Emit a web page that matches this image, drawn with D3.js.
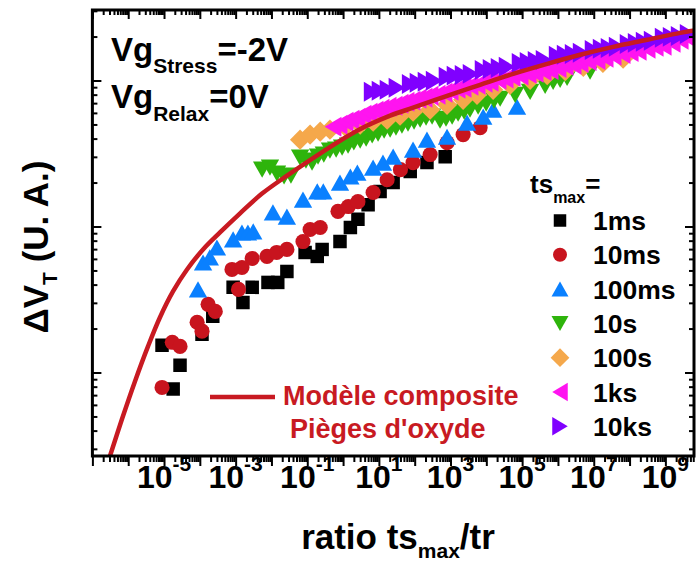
<!DOCTYPE html>
<html>
<head>
<meta charset="utf-8">
<script src="https://cdn.jsdelivr.net/npm/d3@7"></script>
<style>
  html, body { margin: 0; padding: 0; background: #fff; }
  svg { display: block; }
  text { font-family: "Liberation Sans", Arial, sans-serif; font-weight: bold; }
</style>
</head>
<body>
<svg id="chart" width="696" height="563"></svg>
<script>
// ---- Measured threshold-voltage shift vs. ratio ts_max / tr ----
const seriesNames = ["1ms", "10ms", "100ms", "10s", "100s", "1ks", "10ks"];

const ratio1ms = [8.8e-6, 1.8e-5, 2.8e-5, 1.15e-4, 2.3e-4, 8.5e-4, 1.6e-3, 2.9e-3, 8.0e-3, 1.5e-2, 2.7e-2, 8.7e-2, 0.19, 0.26, 0.82, 1.6, 2.6, 5.0, 10.8, 25, 75, 220, 710];
const dvt1ms   = [1.54, 0.77, 1.12, 1.83, 2.43, 3.83, 3.02, 3.83, 4.14, 4.14, 4.92, 6.64, 6.24, 6.97, 7.89, 9.84, 11.2, 14.1, 17.4, 20.0, 23.8, 27.4, 30.1];

const ratio10ms = [8.8e-6, 1.7e-5, 2.8e-5, 8.4e-5, 1.15e-4, 1.7e-4, 2.7e-4, 7.9e-4, 1.2e-3, 1.5e-3, 2.9e-3, 7.5e-3, 1.4e-2, 2.7e-2, 7.6e-2, 0.12, 0.23, 0.72, 1.4, 2.6, 6.9, 17, 40, 90, 270, 800, 2250, 6700];
const dvt10ms   = [0.79, 1.61, 1.51, 2.21, 1.92, 2.93, 2.62, 5.08, 3.71, 5.24, 6.04, 6.24, 6.64, 6.97, 7.89, 9.54, 9.84, 12.7, 13.7, 14.8, 17.1, 20.9, 24.5, 27.4, 31.1, 37.5, 42.6, 47.5];

const ratio100ms = [8.9e-5, 1.23e-4, 1.9e-4, 3.0e-4, 8.5e-4, 1.5e-3, 2.2e-3, 3.1e-3, 1.1e-2, 2.7e-2, 7.6e-2, 0.19, 0.28, 0.82, 1.6, 2.5, 6.9, 13, 25, 90, 220, 800, 2900, 8200, 15500, 72000];
const dvt100ms   = [3.71, 5.67, 6.14, 7.18, 8.15, 9.1, 9.1, 9.25, 12.5, 11.7, 15.3, 17.4, 17.4, 20.0, 22.0, 23.4, 25.3, 27.4, 30.1, 33.6, 39.3, 41.2, 51.4, 56.5, 63.1, 66.1];

const ratio10s = [5.5e-3, 9.1e-3, 1.43e-2, 2.25e-2, 3.5e-2, 6.3e-2, 9.2e-2, 0.136, 0.20, 0.29, 0.43, 0.64, 0.94, 1.38, 2.0, 3.0, 4.4, 6.5, 9.5, 14, 20.6, 30, 44, 65, 96, 142, 208, 306, 510, 750, 1110, 1630, 2400, 3500, 5900, 9900, 16500, 24300, 63700, 167000, 439000, 735000, 1.15e6, 1.8e6, 7.9e6];
const dvt10s   = [24.5, 25.3, 23.0, 22.0, 22.3, 29.6, 28.3, 27.4, 30.1, 31.1, 33.1, 33.6, 34.7, 35.8, 37.6, 38.8, 40.0, 42.0, 43.3, 45.4, 46.1, 47.6, 49.1, 50.7, 52.2, 53.9, 55.6, 56.5, 53.0, 54.7, 56.5, 59.2, 61.1, 63.1, 66.2, 69.4, 72.7, 75.0, 79.8, 83.7, 92.0, 97.9, 101, 104, 115];

const ratio100s = [6.3e-2, 0.12, 0.23, 0.43, 1.14, 3.0, 6.9, 17, 39, 90, 270, 800, 2250, 5500, 15500, 46000, 167000, 500000, 1.6e6, 5.1e6, 1.8e7, 6.6e7];
const dvt100s   = [39.3, 42.6, 44.6, 46.0, 48.3, 49.8, 52.2, 53.9, 57.4, 61.1, 63.1, 68.2, 73.8, 79.8, 86.3, 93.5, 101, 109, 116, 124, 132, 141];

const ratio1ks = [0.526, 0.773, 1.14, 1.67, 2.46, 3.62, 5.32, 7.83, 11.5, 18.1, 26.6, 39.1, 57.5, 84.6, 124, 183, 269, 423, 662, 975, 1530, 2250, 3520, 5530, 8690, 12800, 21400, 33500, 52600, 87900, 147000, 231000, 386000, 606000, 1.01e6, 1.59e6, 2.66e6, 4.17e6, 6.98e6, 1.24e7, 2.08e7, 3.48e7, 6.21e7, 1.04e8, 1.74e8, 3.10e8, 5.19e8, 8.69e8, 1.55e9, 2.59e9, 4.34e9];
const dvt1ks   = [48.3, 49.8, 52.2, 53.9, 55.6, 58.3, 60.2, 62.1, 64.1, 66.1, 67.2, 69.4, 71.5, 72.7, 75.0, 76.2, 78.6, 79.8, 82.4, 85.1, 87.7, 89.1, 92.0, 93.5, 96.4, 97.9, 101, 103, 106, 108, 111, 113, 116, 118, 122, 126, 128, 132, 136, 138, 143, 148, 152, 157, 160, 165, 170, 173, 181, 190, 196];

const ratio10ks = [6.5, 10.8, 18, 32, 75, 124, 208, 350, 800, 1340, 2250, 3760, 8150, 13600, 22800, 38100, 87900, 147000, 246000, 412000, 951000, 1.59e6, 2.66e6, 4.45e6, 9.6e6, 1.61e7, 2.69e7, 4.51e7, 9.1e7, 1.53e8, 2.56e8, 4.28e8, 8.7e8, 1.45e9, 2.43e9, 4.34e9];
const dvt10ks   = [83.8, 85.1, 86.5, 89.1, 94.8, 96.4, 97.9, 99.5, 106, 108, 109, 111, 118, 120, 122, 124, 132, 134, 136, 138, 148, 150, 152, 155, 162, 165, 167, 170, 178, 181, 184, 187, 196, 199, 202, 208];

// Composite oxide-trap model curve
const modelRatio = [3.10e-7, 6.71e-7, 1.55e-6, 3.57e-6, 7.73e-6, 1.78e-5, 4.39e-5, 1.23e-4, 3.66e-4, 1.33e-3, 5.46e-3, 2.73e-2, 0.276, 2.46, 20.6, 90.2, 804, 6710, 56100, 5.0e5, 4.17e6, 3.48e7, 3.10e8, 2.59e9, 6.37e9];
const modelDvt   = [0.268, 0.480, 0.872, 1.51, 2.39, 3.59, 5.08, 6.96, 9.10, 12.3, 16.8, 22.3, 32.6, 45.3, 57.4, 65.1, 78.6, 93.5, 111, 130, 150, 170, 190, 212, 220];

// Axis extents and labelled decades
const xDomain = [1e-7, 6.3e9];
const yDomain = [0.268, 304];
const xLabelExponents = [-5, -3, -1, 1, 3, 5, 7, 9];

// ---- styles ----
const seriesColors = ["#000000", "#c8141e", "#0a80ff", "#2eb40c", "#f5a84b", "#ff14f0", "#8000ff"];
const seriesShapes = ["square", "circle", "up", "down", "diamond", "left", "right"];
const modelColor = "#c81a22";

const seriesData = [
  [ratio1ms, dvt1ms], [ratio10ms, dvt10ms], [ratio100ms, dvt100ms], [ratio10s, dvt10s],
  [ratio100s, dvt100s], [ratio1ks, dvt1ks], [ratio10ks, dvt10ks]
];

const box = { left: 92.4, right: 694, top: 10, bottom: 456 };
const svg = d3.select("#chart");
svg.append("rect").attr("width", 696).attr("height", 563).attr("fill", "#fff");

const x = d3.scaleLog().domain(xDomain).range([box.left, box.right]);
const y = d3.scaleLog().domain(yDomain).range([box.bottom, box.top]);

svg.append("defs").append("clipPath").attr("id", "plotClip")
  .append("rect")
  .attr("x", box.left).attr("y", box.top)
  .attr("width", box.right - box.left).attr("height", box.bottom - box.top);

function markerPath(shape, s) {
  const h = s / 2;
  switch (shape) {
    case "square": return `M${-h},${-h}H${h}V${h}H${-h}Z`;
    case "circle": { const r = s * 0.56; return `M${-r},0A${r},${r} 0 1,0 ${r},0A${r},${r} 0 1,0 ${-r},0Z`; }
    case "up":    { const w = s * 0.68, t = s * 0.6; return `M0,${-t}L${w},${t}L${-w},${t}Z`; }
    case "down":  { const w = s * 0.68, t = s * 0.6; return `M0,${t}L${w},${-t}L${-w},${-t}Z`; }
    case "left":  { const w = s * 0.74, t = s * 0.62; return `M${-t},0L${t},${-w}L${t},${w}Z`; }
    case "right": { const w = s * 0.74, t = s * 0.62; return `M${t},0L${-t},${-w}L${-t},${w}Z`; }
    case "diamond": { const d = s * 0.75; return `M0,${-d}L${d},0L0,${d}L${-d},0Z`; }
  }
}

// ---- data markers ----
const plot = svg.append("g").attr("clip-path", "url(#plotClip)");
seriesData.forEach(([rs, vs], i) => {
  const pts = rs.map((r, k) => ({ r, v: vs[k] }));
  plot.append("g").selectAll("path").data(pts).join("path")
    .attr("d", markerPath(seriesShapes[i], 13.5))
    .attr("transform", d => `translate(${x(d.r)},${y(d.v)})`)
    .attr("fill", seriesColors[i]);
});

// ---- model curve ----
const modelPts = modelRatio.map((r, k) => [r, modelDvt[k]]);
plot.append("path")
  .datum(modelPts)
  .attr("fill", "none")
  .attr("stroke", modelColor)
  .attr("stroke-width", 4.5)
  .attr("d", d3.line().x(d => x(d[0])).y(d => y(d[1])).curve(d3.curveCatmullRom.alpha(0.5)));

// ---- axes (ticks only; frame drawn separately) ----
const xMajor = d3.range(-7, 10).map(e => 10 ** e).filter(v => v >= xDomain[0] && v <= xDomain[1]);
const xMinor = [];
d3.range(-7, 10).forEach(e => { for (let k = 2; k <= 9; k++) { const v = k * 10 ** e; if (v > xDomain[0] && v < xDomain[1]) xMinor.push(v); } });
const yMajor = [1, 10, 100];
const yMinor = [];
d3.range(-1, 3).forEach(e => { for (let k = 2; k <= 9; k++) { const v = k * 10 ** e; if (v > yDomain[0] && v < yDomain[1]) yMinor.push(v); } });

function tickAxis(axisFn, scale, vals, size, tx, ty) {
  const g = svg.append("g").attr("transform", `translate(${tx},${ty})`)
    .call(axisFn(scale).tickValues(vals).tickSize(size).tickFormat(""));
  g.select(".domain").remove();
  g.selectAll(".tick line").attr("stroke", "#000").attr("stroke-width", 2);
  return g;
}
// bottom: outward, top: inward
tickAxis(d3.axisBottom, x, xMajor, 10, 0, box.bottom);
tickAxis(d3.axisBottom, x, xMinor, 6, 0, box.bottom);
tickAxis(d3.axisBottom, x, xMajor, 9, 0, box.top);
tickAxis(d3.axisBottom, x, xMinor, 5, 0, box.top);
// left and right: inward
tickAxis(d3.axisRight, y, yMajor, 9, box.left, 0);
tickAxis(d3.axisRight, y, yMinor, 5, box.left, 0);
tickAxis(d3.axisLeft, y, yMajor, 9, box.right, 0);
tickAxis(d3.axisLeft, y, yMinor, 5, box.right, 0);

// frame
svg.append("rect")
  .attr("x", box.left).attr("y", box.top)
  .attr("width", box.right - box.left).attr("height", box.bottom - box.top)
  .attr("fill", "none").attr("stroke", "#000").attr("stroke-width", 3);

// x tick labels: 10^n
const xl = svg.append("g");
xLabelExponents.forEach(e => {
  const t = xl.append("text")
    .attr("x", x(10 ** e)).attr("y", 488)
    .attr("text-anchor", "middle")
    .attr("font-size", 32);
  t.append("tspan").text("10");
  t.append("tspan").attr("font-size", 21).attr("dy", -17).text(e);
});

// axis titles
const xt = svg.append("text").attr("x", 398).attr("y", 549).attr("text-anchor", "middle").attr("font-size", 35);
xt.append("tspan").text("ratio ts");
xt.append("tspan").attr("font-size", 21).attr("dy", 9).text("max");
xt.append("tspan").attr("dy", -9).text("/tr");

const yt = svg.append("text")
  .attr("transform", "translate(48,247) rotate(-90)")
  .attr("text-anchor", "middle").attr("font-size", 35);
yt.append("tspan").text("\u0394V");
yt.append("tspan").attr("font-size", 21).attr("dy", 9).text("T");
yt.append("tspan").attr("dy", -9).text(" (U. A.)");

// bias conditions
const a1 = svg.append("text").attr("x", 111).attr("y", 61).attr("font-size", 33);
a1.append("tspan").text("Vg");
a1.append("tspan").attr("font-size", 21).attr("dy", 12).text("Stress");
a1.append("tspan").attr("dy", -12).text("=-2V");
const a2 = svg.append("text").attr("x", 111).attr("y", 108).attr("font-size", 33);
a2.append("tspan").text("Vg");
a2.append("tspan").attr("font-size", 21).attr("dy", 13).text("Relax");
a2.append("tspan").attr("dy", -13).text("=0V");

// model legend
svg.append("line").attr("x1", 210).attr("x2", 275).attr("y1", 397).attr("y2", 397)
  .attr("stroke", modelColor).attr("stroke-width", 4.5);
svg.append("text").attr("x", 283).attr("y", 405).attr("font-size", 27).attr("fill", modelColor).text("Modèle composite");
svg.append("text").attr("x", 290).attr("y", 438).attr("font-size", 27).attr("fill", modelColor).text("Pièges d'oxyde");

// series legend
const lt = svg.append("text").attr("x", 530).attr("y", 193).attr("font-size", 26);
lt.append("tspan").text("ts");
lt.append("tspan").attr("font-size", 16).attr("dy", 10).text("max");
lt.append("tspan").attr("dy", -10).text("=");

seriesNames.forEach((name, i) => {
  const base = 230 + i * 34.3;
  svg.append("path")
    .attr("d", markerPath(seriesShapes[i], 12.5))
    .attr("transform", `translate(560,${base - 9.5})`)
    .attr("fill", seriesColors[i]);
  svg.append("text").attr("x", 593).attr("y", base).attr("font-size", 26.5).text(name);
});
</script>
</body>
</html>
